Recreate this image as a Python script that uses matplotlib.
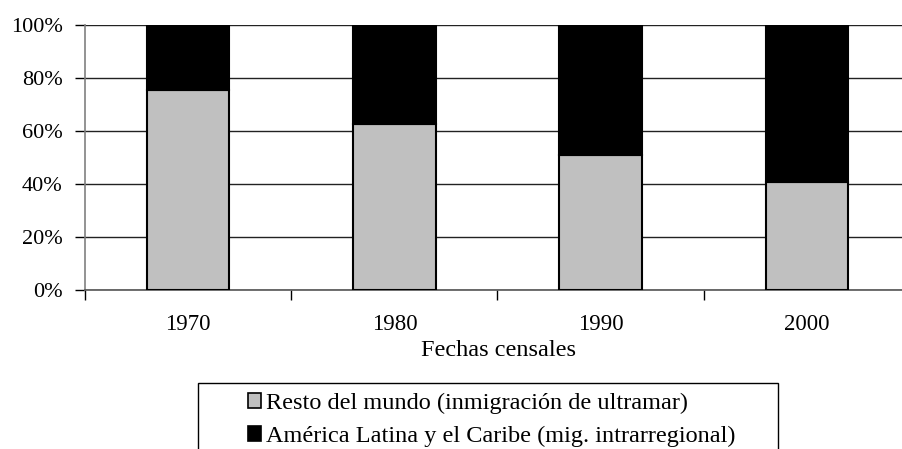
import matplotlib
matplotlib.use("Agg")
import matplotlib.pyplot as plt
from matplotlib.patches import Rectangle, Patch
from matplotlib.ticker import FixedLocator, FuncFormatter

years = ["1970", "1980", "1990", "2000"]
resto = [75.5, 62.5, 50.8, 40.8]
america = [24.5, 37.5, 49.2, 59.2]
labels = ["Resto del mundo (inmigración de ultramar)",
          "América Latina y el Caribe (mig. intrarregional)"]
colors = ["#C0C0C0", "#000000"]
yticks = [0, 20, 40, 60, 80, 100]

plt.rcParams['font.family'] = ['Liberation Serif', 'DejaVu Serif']
W, H = 902, 449
fig = plt.figure(figsize=(W / 100, H / 100), dpi=100)
ax = fig.add_axes([85 / W, 1 - 290 / H, 825 / W, 265 / H])

x = list(range(len(years)))
ax.bar(x, resto, width=0.4, color=colors[0], edgecolor="black", linewidth=1.5, zorder=3)
ax.bar(x, america, width=0.4, bottom=resto, color=colors[1], edgecolor="black", linewidth=1.5, zorder=3)

ax.set_xlim(-0.5, len(years) - 0.5)
ax.set_ylim(0, 100)
ax.set_yticks(yticks)
ax.yaxis.set_major_formatter(FuncFormatter(lambda v, p: f"{int(v)}%"))
ax.yaxis.grid(True, color="#222222", linewidth=1.0, zorder=0)
ax.set_xticks(x)
ax.set_xticklabels(years)
ax.xaxis.set_minor_locator(FixedLocator([i - 0.5 for i in range(len(years) + 1)]))
ax.tick_params(axis="x", which="major", length=0, pad=17, labelsize=16.5)
ax.tick_params(axis="x", which="minor", length=7, width=1, color="black", direction="out")
ax.tick_params(axis="y", length=7, width=1, color="black", pad=9, labelsize=16)
for s in ["top", "right"]:
    ax.spines[s].set_visible(False)
ax.spines["left"].set_color("#808080")
ax.spines["left"].set_linewidth(1.2)
ax.spines["bottom"].set_color("#555555")
ax.spines["bottom"].set_linewidth(1.2)
ax.set_xlabel("Fechas censales", fontsize=17.5)
ax.xaxis.set_label_coords((499 - 85) / 825, -0.19)

fig.patches.append(Rectangle((198 / W, 1 - 470 / H), 580 / W, 87 / H,
                             transform=fig.transFigure, facecolor="none",
                             edgecolor="black", linewidth=1.0, clip_on=False))
handles = [Patch(facecolor=colors[0], edgecolor="black", linewidth=1.2),
           Patch(facecolor=colors[1], edgecolor="black", linewidth=1.2)]
fig.legend(handles, labels, loc="upper left", bbox_to_anchor=(231 / W, 1 - 376 / H),
           frameon=False, fontsize=17.5, handlelength=0.55, handleheight=0.55,
           handletextpad=0.2, labelspacing=0.49, borderpad=0.2)

fig.savefig("out.png", dpi=100)
